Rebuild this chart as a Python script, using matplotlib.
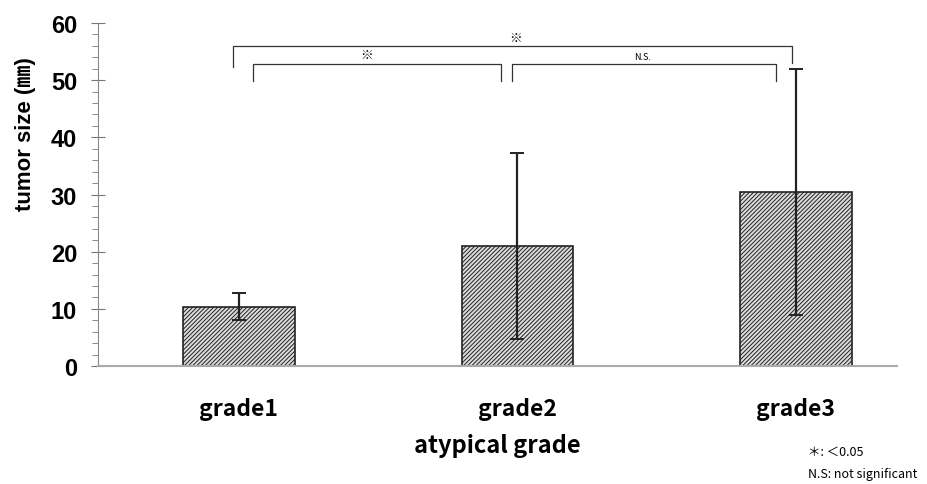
import matplotlib.pyplot as plt
from matplotlib.ticker import MultipleLocator

plt.rcParams['font.family'] = ['Noto Sans CJK JP', 'DejaVu Sans']
plt.rcParams['hatch.color'] = '#444444'
plt.rcParams['hatch.linewidth'] = 0.7

# data
grades = ['grade1', 'grade2', 'grade3']
mean_size = [10.4, 21.0, 30.4]
sd_size = [2.4, 16.2, 21.5]

fig = plt.figure(figsize=(9.28, 4.85), dpi=100)
ax = fig.add_axes([0.1056, 0.2433, 0.861, 0.7072])

x = range(len(grades))
ax.bar(x, mean_size, width=0.40, facecolor='#dcdcdc', edgecolor='#222222',
       linewidth=1.2, hatch='////////', zorder=2)
ax.errorbar(x, mean_size, yerr=sd_size, fmt='none', ecolor='#222222',
            elinewidth=1.6, capsize=5, capthick=1.4, zorder=3)

ax.set_xlim(-0.506, 2.363)
ax.set_ylim(0, 60)

for s in ['top', 'right']:
    ax.spines[s].set_visible(False)
ax.spines['left'].set_color('#888888')
ax.spines['bottom'].set_color('#aaaaaa')
ax.spines['bottom'].set_linewidth(1.5)

ax.yaxis.set_major_locator(MultipleLocator(10))
ax.yaxis.set_minor_locator(MultipleLocator(2))
ax.tick_params(axis='y', which='major', direction='inout', length=10, color='#777777', pad=10)
ax.tick_params(axis='y', which='minor', direction='out', length=4, color='#777777')
for lab in ax.get_yticklabels():
    lab.set_family(['Liberation Sans', 'DejaVu Sans'])
    lab.set_fontweight('bold')
    lab.set_fontsize(17)

ax.set_xticks(list(x))
ax.set_xticklabels(grades, fontsize=16.5, fontweight='bold')
ax.tick_params(axis='x', length=0, pad=22)

ax.set_xlabel('atypical grade', fontsize=17, fontweight='bold', labelpad=10)
fig.text(0.027, 0.724, 'tumor size (㎜)', rotation=90, fontsize=16,
         family=['Liberation Sans', 'Noto Sans CJK JP'],
         fontweight='bold', ha='center', va='center')

# significance brackets
lc = '#333333'
ax.plot([-0.02, -0.02, 1.985, 1.985], [52.3, 56.0, 56.0, 53.0], color=lc, lw=0.9)
ax.plot([0.05, 0.05, 0.94, 0.94], [49.8, 52.9, 52.9, 49.8], color=lc, lw=0.9)
ax.plot([0.98, 0.98, 1.93, 1.93], [49.8, 52.9, 52.9, 49.8], color=lc, lw=0.9)
ax.text(0.995, 56.4, '※', ha='center', va='bottom', fontsize=9)
ax.text(0.46, 53.4, '※', ha='center', va='bottom', fontsize=9)
ax.text(1.45, 53.4, 'N.S.', ha='center', va='bottom', fontsize=6.5)

fig.text(0.871, 0.068, '＊: ＜0.05', fontsize=9, ha='left', va='center')
fig.text(0.871, 0.022, 'N.S: not significant', fontsize=9, ha='left', va='center')

fig.savefig('out.png', dpi=100)
